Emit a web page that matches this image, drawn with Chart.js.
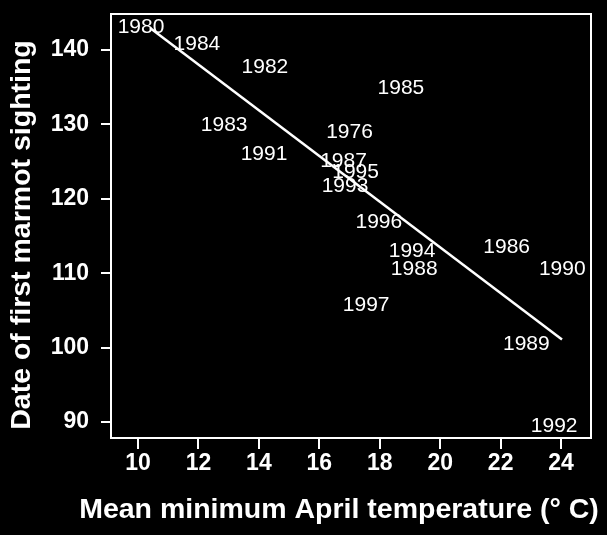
<!DOCTYPE html>
<html>
<head>
<meta charset="utf-8">
<script src="https://cdn.jsdelivr.net/npm/chart.js@4/dist/chart.umd.min.js"></script>
<style>
  html, body { margin: 0; padding: 0; background: #000; }
  #wrap { width: 607px; height: 535px; }
</style>
</head>
<body>
<div id="wrap"><canvas id="c" width="607" height="535"></canvas></div>
<script>
// ---- data ----
const years = ['1980','1984','1982','1985','1983','1991','1976','1987','1995','1993','1996','1994','1988','1986','1990','1997','1989','1992'];
const temps = [10.1, 11.95, 14.2, 18.7, 12.85, 14.17, 17.0, 16.8, 17.2, 16.85, 17.97, 19.07, 19.14, 22.2, 24.04, 17.55, 22.85, 23.77];
const dates = [143.0, 140.8, 137.7, 134.8, 129.9, 126.0, 128.9, 125.0, 123.6, 121.7, 116.8, 112.9, 110.5, 113.5, 110.5, 105.7, 100.5, 89.5];
const fitX = [10.4, 24.03];
const fitY = [142.96, 101.1];
const xTicks = [10, 12, 14, 16, 18, 20, 22, 24];
const yTicks = [90, 100, 110, 120, 130, 140];
const xTitle = 'Mean minimum April temperature (° C)';
const yTitle = 'Date of first marmot sighting';

const FONT = "'Liberation Sans', Arial, Helvetica, sans-serif";

const yearLabels = {
  id: 'yearLabels',
  afterDatasetsDraw(chart) {
    const ctx = chart.ctx;
    const meta = chart.getDatasetMeta(0);
    ctx.save();
    ctx.fillStyle = '#fff';
    ctx.font = '21px ' + FONT;
    ctx.textAlign = 'center';
    ctx.textBaseline = 'middle';
    meta.data.forEach((pt, i) => {
      ctx.fillText(years[i], pt.x, pt.y);
    });
    ctx.restore();
  }
};

const boxPlugin = {
  id: 'boxPlugin',
  afterDraw(chart) {
    const a = chart.chartArea;
    const ctx = chart.ctx;
    ctx.save();
    ctx.strokeStyle = '#fff';
    ctx.lineWidth = 2;
    ctx.strokeRect(a.left, a.top, a.right - a.left, a.bottom - a.top);
    // axis titles
    ctx.fillStyle = '#fff';
    ctx.font = 'bold 28.5px ' + FONT;
    ctx.textAlign = 'center';
    ctx.textBaseline = 'middle';
    ctx.fillText(xTitle, 339, 510);
    ctx.translate(22, 235);
    ctx.rotate(-Math.PI / 2);
    ctx.fillText(yTitle, 0, 0);
    ctx.restore();
  }
};

new Chart(document.getElementById('c'), {
  type: 'scatter',
  data: {
    datasets: [
      {
        data: temps.map((t, i) => ({ x: t, y: dates[i] })),
        pointRadius: 0,
        pointHoverRadius: 0,
        showLine: false
      },
      {
        type: 'line',
        data: fitX.map((t, i) => ({ x: t, y: fitY[i] })),
        borderColor: '#fff',
        borderWidth: 2.5,
        pointRadius: 0,
        fill: false
      }
    ]
  },
  options: {
    responsive: false,
    animation: false,
    devicePixelRatio: 1,
    layout: { padding: { top: 14, right: 16, left: 0, bottom: 0 } },
    plugins: { legend: { display: false }, tooltip: { enabled: false } },
    scales: {
      x: {
        type: 'linear',
        min: 9.106,
        max: 24.99,
        afterBuildTicks(scale) { scale.ticks = xTicks.map(v => ({ value: v })); },
        afterFit(scale) { scale.height = 97; scale.paddingLeft = 0; scale.paddingRight = 0; scale.paddingTop = 0; scale.paddingBottom = 0; },
        grid: { display: true, drawOnChartArea: false, drawTicks: true, tickLength: 11, color: '#fff', lineWidth: 2 },
        border: { display: false },
        ticks: { color: '#fff', font: { family: FONT, size: 23, weight: 'bold' }, padding: 1, maxRotation: 0, autoSkip: false },
        title: { display: false }
      },
      y: {
        type: 'linear',
        min: 87.85,
        max: 144.84,
        afterBuildTicks(scale) { scale.ticks = yTicks.map(v => ({ value: v })); },
        afterFit(scale) { scale.width = 111; scale.paddingLeft = 0; scale.paddingRight = 0; scale.paddingTop = 0; scale.paddingBottom = 0; },
        grid: { display: true, drawOnChartArea: false, drawTicks: true, tickLength: 10, color: '#fff', lineWidth: 2 },
        border: { display: false },
        ticks: { color: '#fff', font: { family: FONT, size: 23, weight: 'bold' }, padding: 12, autoSkip: false },
        title: { display: false }
      }
    }
  },
  plugins: [yearLabels, boxPlugin]
});
</script>
</body>
</html>
